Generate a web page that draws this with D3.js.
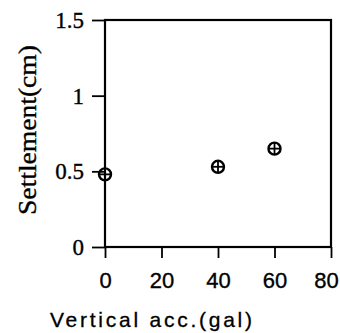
<!DOCTYPE html>
<html>
<head>
<meta charset="utf-8">
<script src="https://cdn.jsdelivr.net/npm/d3@7"></script>
<style>
  html, body { margin: 0; padding: 0; background: #fff; }
  svg { display: block; }
</style>
</head>
<body>
<svg id="chart" width="340" height="333"></svg>
<script>
// values
const accel = [0, 40, 60]
const settlement = [0.48, 0.53, 0.65]
const xTicks = [0, 20, 40, 60, 80]
const yTicks = [0, 0.5, 1, 1.5]
const xTitle = 'Vertical acc.(gal)'
const yTitle = 'Settlement(cm)'

const svg = d3.select('#chart')

const plotL = 105, plotR = 331, plotT = 20, plotB = 247

const x = d3.scaleLinear().domain([0, 80]).range([plotL, plotR])
const y = d3.scaleLinear().domain([0, 1.5]).range([plotB, plotT])

// frame
svg.append('rect')
  .attr('x', plotL).attr('y', plotT)
  .attr('width', plotR - plotL).attr('height', plotB - plotT)
  .attr('fill', 'none').attr('stroke', '#000').attr('stroke-width', 2.2)

// y axis
const yAxis = d3.axisLeft(y).tickValues(yTicks).tickSize(13).tickPadding(8)
  .tickFormat(d => String(d))
const gy = svg.append('g').attr('transform', `translate(${plotL},0)`).call(yAxis)
gy.select('.domain').remove()
gy.selectAll('line').attr('stroke-width', 1.8)
gy.selectAll('text')
  .attr('font-family', '"Liberation Serif", "Times New Roman", serif')
  .attr('font-size', 23).attr('fill', '#000')
  .attr('stroke', '#000').attr('stroke-width', 0.35)

// x axis
const xAxis = d3.axisBottom(x).tickValues(xTicks).tickSize(11).tickPadding(14)
const gx = svg.append('g').attr('transform', `translate(0,${plotB})`).call(xAxis)
gx.select('.domain').remove()
gx.selectAll('line').attr('stroke-width', 1.8)
gx.selectAll('text')
  .attr('font-family', '"Liberation Sans", Arial, sans-serif')
  .attr('font-size', 22).attr('fill', '#000')
  .attr('stroke', '#000').attr('stroke-width', 0.35)
  .attr('dx', d => d === 80 ? -5 : 0)

// points: circle with a cross
const pts = svg.append('g').selectAll('g')
  .data(accel.map((a, i) => ({ a: a, s: settlement[i] })))
  .join('g')
  .attr('transform', d => `translate(${x(d.a)},${y(d.s)})`)
pts.append('circle').attr('r', 6).attr('fill', 'none').attr('stroke', '#000').attr('stroke-width', 2.4)
pts.append('line').attr('x1', -6).attr('x2', 6).attr('stroke', '#000').attr('stroke-width', 1.8)
pts.append('line').attr('y1', -6).attr('y2', 6).attr('stroke', '#000').attr('stroke-width', 1.8)

// titles
svg.append('text')
  .attr('x', 50).attr('y', 327)
  .attr('font-family', '"Liberation Sans", Arial, sans-serif')
  .attr('font-size', 21)
  .attr('stroke', '#000').attr('stroke-width', 0.3)
  .attr('textLength', 202).attr('lengthAdjust', 'spacing')
  .text(xTitle)

svg.append('text')
  .attr('transform', 'translate(36,215) rotate(-90)')
  .attr('font-family', '"Liberation Serif", "Times New Roman", serif')
  .attr('font-size', 25)
  .attr('stroke', '#000').attr('stroke-width', 0.35)
  .attr('textLength', 170).attr('lengthAdjust', 'spacingAndGlyphs')
  .text(yTitle)
</script>
</body>
</html>
